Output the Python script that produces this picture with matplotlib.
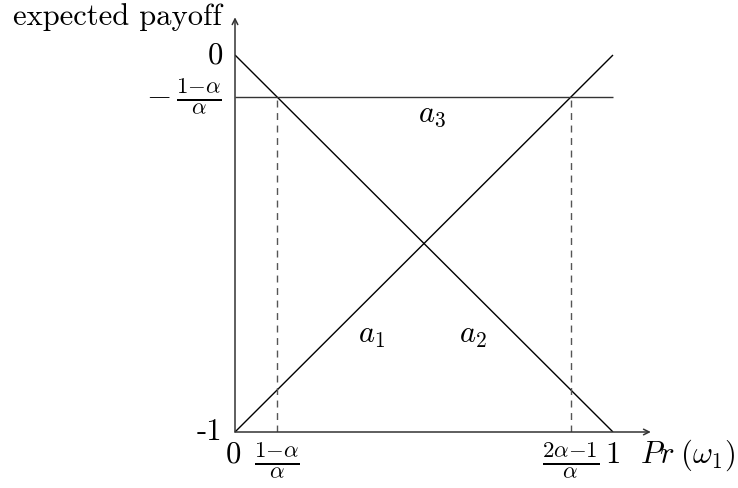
import matplotlib
matplotlib.use("Agg")
import matplotlib.pyplot as plt

plt.rcParams["mathtext.fontset"] = "cm"
plt.rcParams["font.family"] = "serif"
plt.rcParams["font.serif"] = ["cmr10", "DejaVu Serif"]
plt.rcParams["axes.unicode_minus"] = False

# model parameter and the three actions' expected payoff lines
alpha = 0.9
threshold = (1 - alpha) / alpha          # payoff of a3 is -threshold
p_range = [0.0, 1.0]
a1_payoff = [-1.0, 0.0]
a2_payoff = [0.0, -1.0]
a3_payoff = [-threshold, -threshold]
cut_low = (1 - alpha) / alpha
cut_high = (2 * alpha - 1) / alpha

action_labels = ["$a_1$", "$a_2$", "$a_3$"]
label_pos = [(0.362, -0.745), (0.63, -0.745), (0.52, -0.16)]

W, H = 738, 488
fig = plt.figure(figsize=(W / 100, H / 100), dpi=100)
ax = fig.add_axes([235 / W, (H - 432) / H, 415.8 / W, 414.7 / H])
ax.set_xlim(0, 1.1)
ax.set_ylim(-1, 0.1)
ax.axis("off")

fs = 22
fs_frac = 23.5
ink = "black"
axis_col = "#333333"

# axes with arrow heads
ax.annotate("", xy=(1.1, -1), xytext=(0, -1),
            arrowprops=dict(arrowstyle="->", color=axis_col, lw=1.1,
                            shrinkA=0, shrinkB=0), annotation_clip=False)
ax.annotate("", xy=(0, 0.1), xytext=(0, -1),
            arrowprops=dict(arrowstyle="->", color=axis_col, lw=1.1,
                            shrinkA=0, shrinkB=0), annotation_clip=False)

# payoff lines
ax.plot(p_range, a1_payoff, color=ink, lw=1.0, solid_capstyle="butt")
ax.plot(p_range, a2_payoff, color=ink, lw=1.0, solid_capstyle="butt")
ax.plot(p_range, a3_payoff, color=axis_col, lw=1.0, solid_capstyle="butt")

# dashed guides at the indifference points
for c in (cut_low, cut_high):
    ax.plot([c, c], [-1, -threshold], color="#555555", lw=1.0,
            linestyle=(0, (5, 4)))

for lab, (x, y) in zip(action_labels, label_pos):
    ax.text(x, y, lab, fontsize=fs, ha="center", va="center")

# tick labels
ax.text(-0.034, 0.08, "expected payoff", fontsize=fs, ha="right",
        va="baseline")
ax.text(-0.032, -0.002, "0", fontsize=fs, ha="right", va="center")
ax.text(-0.034, -threshold, r"$-\,\frac{1{-}\alpha}{\alpha}$",
        fontsize=fs_frac, ha="right", va="center")
ax.text(-0.034, -1.0, "-1", fontsize=fs, ha="right", va="center")
ax.text(-0.003, -1.061, "0", fontsize=fs, ha="center", va="center")
ax.text(cut_low, -1.075, r"$\frac{1{-}\alpha}{\alpha}$", fontsize=fs_frac,
        ha="center", va="center")
ax.text(cut_high, -1.075, r"$\frac{2\alpha{-}1}{\alpha}$", fontsize=fs_frac,
        ha="center", va="center")
ax.text(1.0, -1.061, "1", fontsize=fs, ha="center", va="center")
ax.text(1.072, -1.061, r"$Pr\;(\omega_1)$", fontsize=fs, ha="left",
        va="center")

fig.savefig("out.png", dpi=100)
